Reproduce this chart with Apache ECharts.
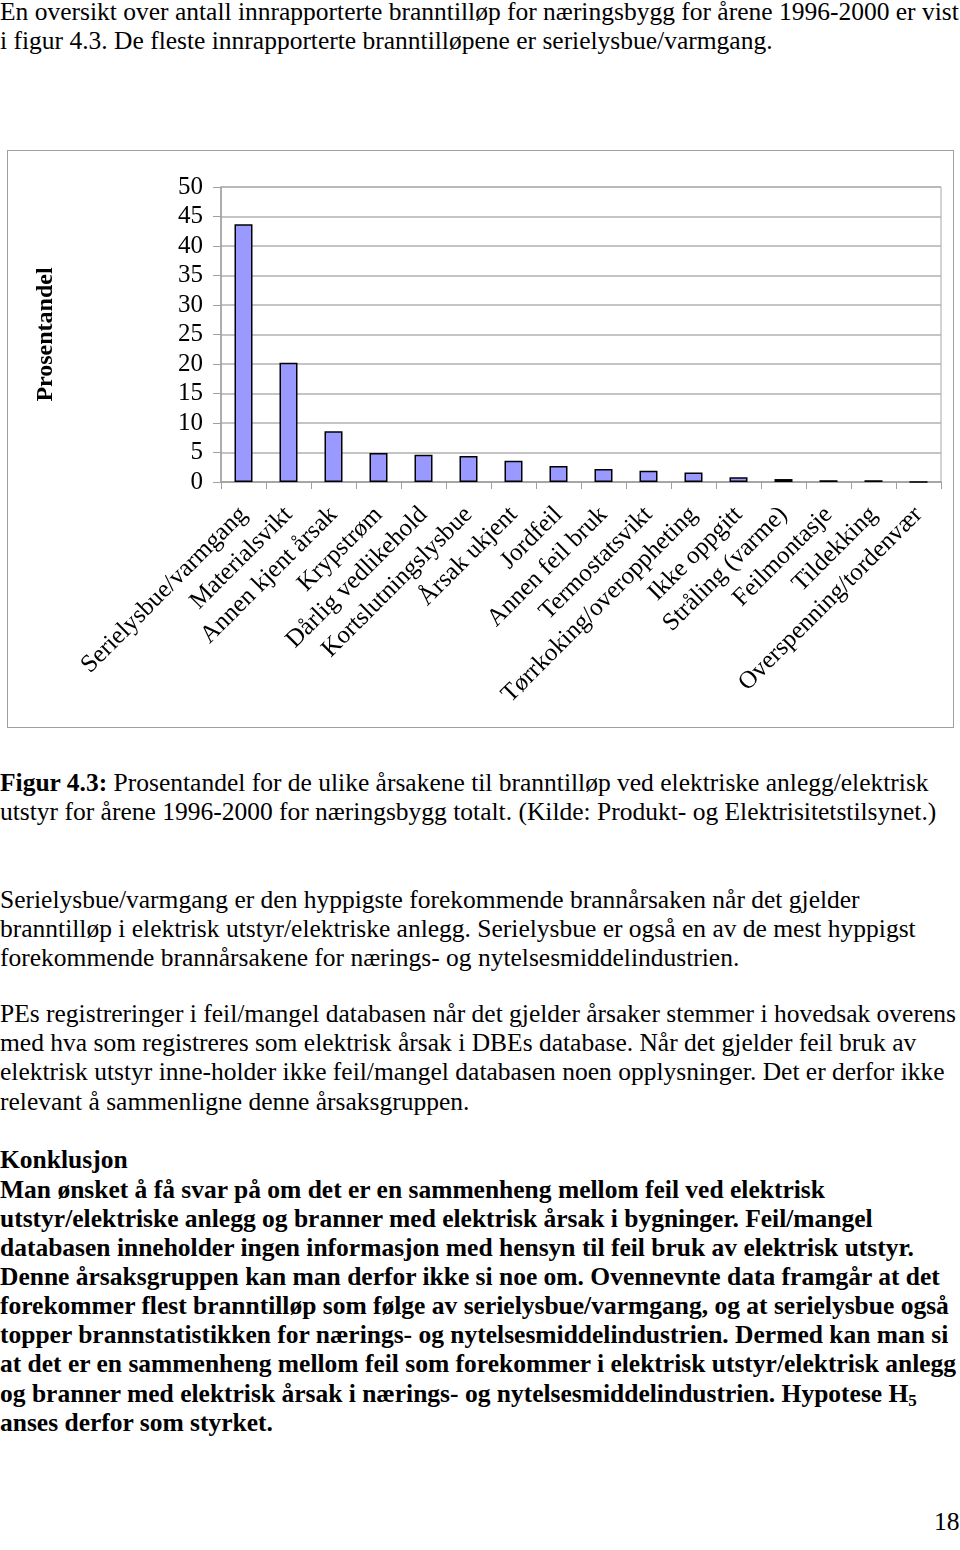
<!DOCTYPE html>
<html>
<head>
<meta charset="utf-8">
<script src="https://cdn.jsdelivr.net/npm/echarts@6/dist/echarts.min.js"></script>
<style>
  html,body{margin:0;padding:0;background:#fff;}
  #page{position:relative;width:960px;height:1550px;overflow:hidden;font-family:"Liberation Serif","Times New Roman",serif;color:#000;}
  .ln{position:absolute;left:0;white-space:nowrap;font-size:25.5px;line-height:28px;height:28px;}
  .b{font-weight:bold;}
  #box{position:absolute;left:7px;top:150px;width:947px;height:578px;border:1.5px solid #a0a0a0;box-sizing:border-box;}
  #chart{position:absolute;left:0;top:0;width:960px;height:740px;}
  sub{font-size:17px;vertical-align:-4px;line-height:0;}
</style>
</head>
<body>
<div id="page">
  <div class="ln" style="top:-2px">En oversikt over antall innrapporterte branntilløp for næringsbygg for årene 1996-2000 er vist</div>
  <div class="ln" style="top:27px">i figur 4.3. De fleste innrapporterte branntilløpene er serielysbue/varmgang.</div>
  <div id="box"></div>
  <div id="chart"></div>
  <div class="ln" style="top:769px"><b>Figur 4.3:</b> Prosentandel for de ulike årsakene til branntilløp ved elektriske anlegg/elektrisk</div>
  <div class="ln" style="top:798px">utstyr for årene 1996-2000 for næringsbygg totalt. (Kilde: Produkt- og Elektrisitetstilsynet.)</div>

  <div class="ln" style="top:886px">Serielysbue/varmgang er den hyppigste forekommende brannårsaken når det gjelder</div>
  <div class="ln" style="top:915px">branntilløp i elektrisk utstyr/elektriske anlegg. Serielysbue er også en av de mest hyppigst</div>
  <div class="ln" style="top:944px">forekommende brannårsakene for nærings- og nytelsesmiddelindustrien.</div>

  <div class="ln" style="top:1000px">PEs registreringer i feil/mangel databasen når det gjelder årsaker stemmer i hovedsak overens</div>
  <div class="ln" style="top:1029px">med hva som registreres som elektrisk årsak i DBEs database. Når det gjelder feil bruk av</div>
  <div class="ln" style="top:1058px">elektrisk utstyr inne-holder ikke feil/mangel databasen noen opplysninger. Det er derfor ikke</div>
  <div class="ln" style="top:1088px">relevant å sammenligne denne årsaksgruppen.</div>

  <div class="ln b" style="top:1146px">Konklusjon</div>
  <div class="ln b" style="top:1176px">Man ønsket å få svar på om det er en sammenheng mellom feil ved elektrisk</div>
  <div class="ln b" style="top:1205px">utstyr/elektriske anlegg og branner med elektrisk årsak i bygninger. Feil/mangel</div>
  <div class="ln b" style="top:1234px">databasen inneholder ingen informasjon med hensyn til feil bruk av elektrisk utstyr.</div>
  <div class="ln b" style="top:1263px">Denne årsaksgruppen kan man derfor ikke si noe om. Ovennevnte data framgår at det</div>
  <div class="ln b" style="top:1292px">forekommer flest branntilløp som følge av serielysbue/varmgang, og at serielysbue også</div>
  <div class="ln b" style="top:1321px">topper brannstatistikken for nærings- og nytelsesmiddelindustrien. Dermed kan man si</div>
  <div class="ln b" style="top:1350px">at det er en sammenheng mellom feil som forekommer i elektrisk utstyr/elektrisk anlegg</div>
  <div class="ln b" style="top:1380px">og branner med elektrisk årsak i nærings- og nytelsesmiddelindustrien. Hypotese H<sub>5</sub></div>
  <div class="ln b" style="top:1409px">anses derfor som styrket.</div>

  <div class="ln" style="top:1508px;left:934px">18</div>
</div>
<script>
const categories = [
  "Serielysbue/varmgang", "Materialsvikt", "Annen kjent årsak", "Krypstrøm",
  "Dårlig vedlikehold", "Kortslutningslysbue", "Årsak ukjent", "Jordfeil",
  "Annen feil bruk", "Termostatsvikt", "Tørrkoking/overoppheting", "Ikke oppgitt",
  "Stråling (varme)", "Feilmontasje", "Tildekking", "Overspenning/tordenvær"
];
const prosentandel = [43.7, 20.2, 8.6, 4.9, 4.6, 4.4, 3.6, 2.7, 2.2, 1.9, 1.6, 0.8, 0.5, 0.3, 0.3, 0];
const yTicks = {min: 0, max: 50, interval: 5};
const yTitle = "Prosentandel";

const chart = echarts.init(document.getElementById('chart'), null, {renderer: 'canvas'});
const serif = 'Liberation Serif';
chart.setOption({
  animation: false,
  backgroundColor: 'transparent',
  grid: {left: 221, top: 187, width: 720, height: 295, show: true, borderColor: '#a8a8a8', borderWidth: 1, containLabel: false},
  xAxis: {
    type: 'category',
    data: categories,
    boundaryGap: true,
    axisLine: {show: true, lineStyle: {color: '#a0a0a0', width: 1.5}},
    axisTick: {show: true, length: 7, lineStyle: {color: '#a0a0a0'}},
    axisLabel: {interval: 0, rotate: 45, margin: 29, fontFamily: serif, fontSize: 25, color: '#000'}
  },
  yAxis: {
    type: 'value',
    min: yTicks.min, max: yTicks.max, interval: yTicks.interval,
    name: yTitle, nameLocation: 'middle', nameRotate: 90, nameGap: 163,
    nameTextStyle: {fontFamily: serif, fontSize: 24, fontWeight: 'bold', color: '#000'},
    axisLine: {show: true, lineStyle: {color: '#a0a0a0', width: 1.5}},
    axisTick: {show: true, length: 8, lineStyle: {color: '#a0a0a0'}},
    splitLine: {show: true, lineStyle: {color: '#b0b0b0', width: 1.5}},
    axisLabel: {margin: 18, fontFamily: serif, fontSize: 25, color: '#000'}
  },
  series: [{
    type: 'bar',
    data: prosentandel,
    barWidth: 18,
    itemStyle: {color: '#9999ff', borderColor: '#000', borderWidth: 1.5}
  }]
});
</script>
</body>
</html>
